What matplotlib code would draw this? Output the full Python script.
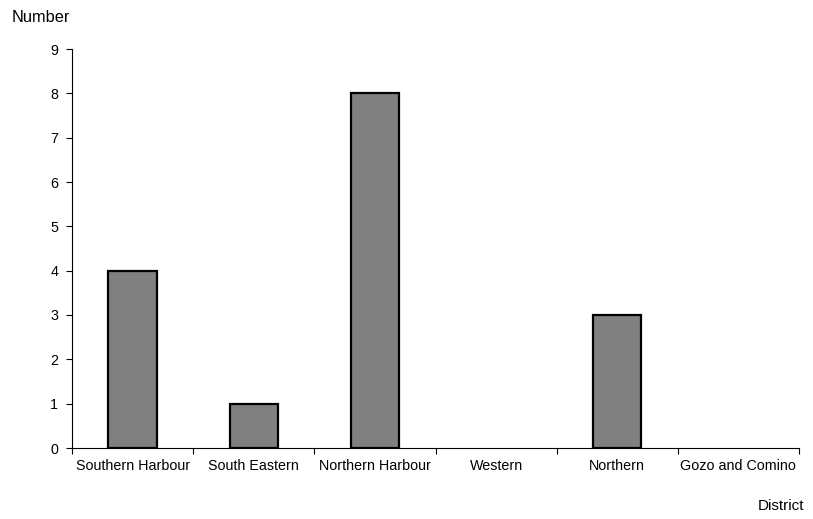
import matplotlib
matplotlib.use("Agg")
import matplotlib.pyplot as plt

districts = ["Southern Harbour", "South Eastern", "Northern Harbour", "Western", "Northern", "Gozo and Comino"]
values = [4, 1, 8, 0, 3, 0]
yticks = list(range(0, 10))

plt.rcParams['font.family'] = ['Liberation Sans', 'DejaVu Sans']
fig = plt.figure(figsize=(8.13, 5.19), dpi=100)
W, H = 813, 519
ax = fig.add_axes([72 / W, 1 - 448 / H, (799 - 72) / W, (448 - 49) / H])

x = list(range(len(districts)))
bars = ax.bar(x, values, width=0.4, color="#808080", edgecolor="black", linewidth=1.6, zorder=3)
for b, v in zip(bars, values):
    if v == 0:
        b.set_visible(False)
ax.set_xlim(-0.5, len(districts) - 0.5)
ax.set_ylim(0, 9)
ax.set_yticks(yticks)
ax.set_yticklabels([str(v) for v in yticks], fontsize=10.3)

ax.set_xticks([i - 0.5 for i in range(len(districts) + 1)])
ax.set_xticklabels([])
ax.tick_params(axis='x', direction='out', length=4, width=0.8, color='black')
ax.tick_params(axis='y', direction='out', length=4, width=0.8, color='black', pad=6)
for i, name in enumerate(districts):
    ax.annotate(name, xy=(i, 0), xycoords=('data', 'axes fraction'),
                xytext=(0, -11), textcoords='offset pixels',
                ha='center', va='top', fontsize=10.3)

for s in ['top', 'right']:
    ax.spines[s].set_visible(False)
for s in ['left', 'bottom']:
    ax.spines[s].set_color('black')
    ax.spines[s].set_linewidth(0.8)

fig.text(12 / W, 1 - 17 / H, "Number", ha='left', va='center', fontsize=11.8)
fig.text(804 / W, 1 - 506 / H, "District", ha='right', va='center', fontsize=11)

fig.savefig("out.png", dpi=100)
